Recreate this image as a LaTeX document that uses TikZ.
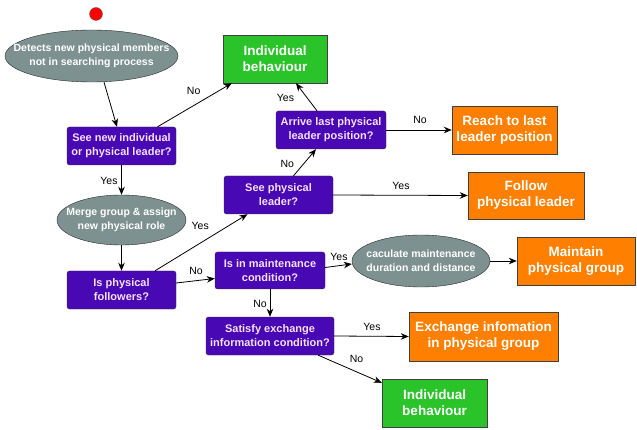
\documentclass[tikz,border=0pt]{standalone}
\usepackage{fontspec}
\setmainfont{Liberation Sans}
\usetikzlibrary{shapes.geometric,arrows.meta}
\definecolor{qpurple}{RGB}{72,8,180}
\definecolor{qtext}{RGB}{246,224,246}
\definecolor{sgrey}{RGB}{125,145,145}
\definecolor{rgreen}{RGB}{42,196,42}
\definecolor{rorange}{RGB}{255,128,0}

\begin{document}
\begin{tikzpicture}[x=1pt,y=-1pt,
  question/.style={draw=black!80,fill=qpurple,rounded corners=2.5pt,text=qtext,
    font=\bfseries\fontsize{11}{14}\selectfont,align=center,inner sep=0pt,
    minimum width=109pt,minimum height=38pt},
  process/.style={ellipse,draw=black!85,fill=sgrey,text=white,
    font=\bfseries\fontsize{10.5}{14}\selectfont,align=center,
    inner xsep=-25pt,inner ysep=0pt},
  result/.style={draw=black!75,text=white,font=\bfseries\fontsize{13.5}{16}\selectfont,
    align=center,inner sep=0pt,minimum height=48pt},
  lbl/.style={font=\fontsize{10.5}{12}\selectfont,inner sep=0pt},
  flow/.style={line width=0.8pt,-{Stealth[length=8pt,width=6.5pt,inset=2.5pt]}}
]
\useasboundingbox (0,0) rectangle (637,430);

% start and first check
\node[circle,fill=red,draw=black!60,minimum size=13pt,inner sep=0pt] (start) at (96,14) {};
\node[process,minimum width=173pt,minimum height=52pt] (detect) at (91.5,56)
  {Detects new physical members\\not in searching process};
\node[question] (seenew) at (121.5,146) {See new individual\\or physical leader?};
\node[result,fill=rgreen,minimum width=104pt] (indiv1) at (275,59) {Individual\\behaviour};
\node[process,minimum width=129pt,minimum height=50pt] (merge) at (121.5,220)
  {Merge group \& assign\\new physical role};
\node[question] (isfol) at (121.5,290) {Is physical\\followers?};

% leader branch
\node[question] (seephys) at (278.5,195) {See physical\\leader?};
\node[question,minimum width=110pt] (arrive) at (331,130) {Arrive last physical\\leader position?};
\node[result,fill=rorange,minimum width=105pt] (reach) at (504.5,130) {Reach to last\\leader position};
\node[result,fill=rorange,minimum width=116pt,minimum height=47pt] (follow) at (526,195.5) {Follow\\physical leader};

% follower branch
\node[question,minimum width=110pt,minimum height=37pt] (maint) at (270,270.5) {Is in maintenance\\condition?};
\node[process,minimum width=138pt,minimum height=52pt] (calc) at (421,261)
  {caculate maintenance\\duration and distance};
\node[result,fill=rorange,minimum width=118pt] (keep) at (576,261) {Maintain\\physical group};
\node[question,minimum width=128pt] (satisfy) at (270,336) {Satisfy exchange\\information condition?};
\node[result,fill=rorange,minimum width=149pt,minimum height=49pt] (exch) at (483.5,336.5) {Exchange infomation\\in physical group};
\node[result,fill=rgreen,minimum width=105pt] (indiv2) at (434.5,403) {Individual\\behaviour};

% connectors
\draw[flow] ([xshift=12.5pt]detect.south) -- ([xshift=-4.5pt]seenew.north);
\draw[flow] ([xshift=36pt]seenew.north) -- node[lbl,xshift=-1pt,yshift=14.5pt] {No} ([xshift=9pt]indiv1.south west);
\draw[flow] (seenew.south) -- node[lbl,xshift=-12.5pt,yshift=-1pt] {Yes} (merge.north);
\draw[flow] (merge.south) -- (isfol.north);
\draw[flow] ([xshift=33.5pt]isfol.north) -- node[lbl,xshift=-1pt,yshift=16.5pt] {Yes} ([xshift=-31pt]seephys.south);
\draw[flow] ([yshift=7pt]isfol.east) -- node[lbl,xshift=0.5pt,yshift=9.5pt] {No} ([yshift=-8pt]maint.west);
\draw[flow] ([xshift=15pt]seephys.north) -- node[lbl,xshift=-17.5pt,yshift=-1.5pt] {No} ([xshift=-15pt]arrive.south);
\draw[flow] ([xshift=-14pt]arrive.north) -- node[lbl,xshift=-21pt,yshift=-1.25pt] {Yes} ([xshift=21pt]indiv1.south);
\draw[flow] (arrive.east) -- node[lbl,xshift=1pt,yshift=10pt] {No} (reach.west);
\draw[flow] (seephys.east) -- node[lbl,xshift=0.5pt,yshift=9.5pt] {Yes} (follow.west);
\draw[flow] ([yshift=3pt]maint.east) -- node[lbl,xshift=0.5pt,yshift=8.75pt] {Yes} ([yshift=-3pt]calc.west);
\draw[flow] (calc.east) -- (keep.west);
\draw[flow] (maint.south) -- node[lbl,xshift=-10pt,yshift=-1pt] {No} (satisfy.north);
\draw[flow] (satisfy.east) -- node[lbl,xshift=0.5pt,yshift=9pt] {Yes} (exch.west);
\draw[flow] ([xshift=-16pt]satisfy.south east) -- node[lbl,xshift=6.5pt,yshift=10.5pt] {No} ([yshift=-4pt]indiv2.north west);
\end{tikzpicture}
\end{document}
